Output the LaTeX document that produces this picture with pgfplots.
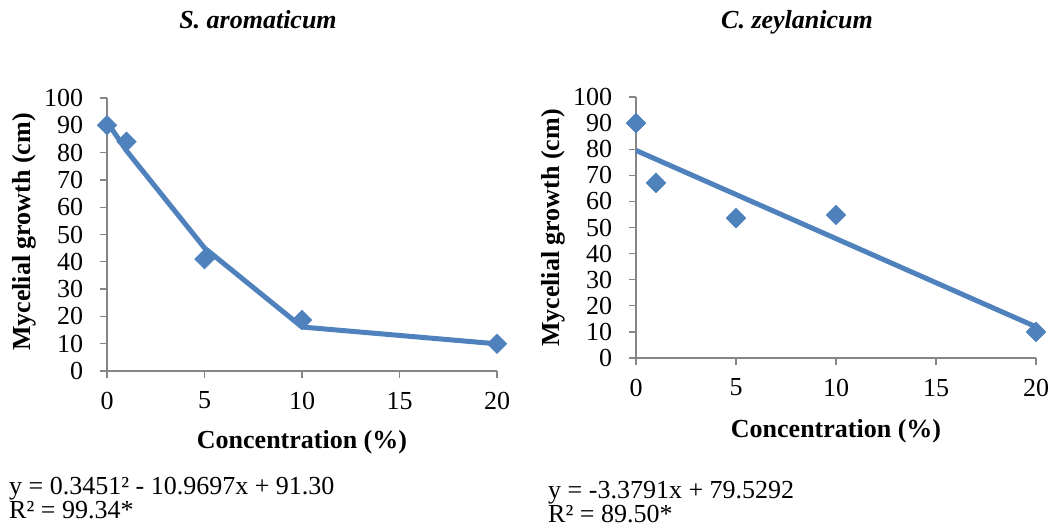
\documentclass[border=0pt]{standalone}
\usepackage{fontspec}
\setmainfont{Liberation Serif}
\usepackage{pgfplots}
\pgfplotsset{compat=1.18}
\definecolor{exblue}{HTML}{4F81BD}
\definecolor{axgray}{HTML}{868686}
\pgfplotsset{
  myaxis/.style={
    scale only axis,
    axis x line*=bottom, axis y line*=left,
    xmin=0, xmax=20, ymin=0, ymax=100,
    xtick={0,5,10,15,20}, ytick={0,10,...,100},
    tick align=outside, major tick length=7bp,
    axis line style={axgray, line width=1.3bp},
    major tick style={axgray, line width=1.3bp},
    tick label style={font=\fontsize{26bp}{30bp}\selectfont, black},
    yticklabel style={xshift=-8bp},
    xticklabel style={yshift=-5bp},
    /pgf/number format/assume math mode=true,
    clip=false,
    title style={font=\fontsize{26bp}{30bp}\selectfont\bfseries\itshape, anchor=base, at={(axis description cs:0.5,1)}},
    xlabel style={font=\fontsize{26bp}{30bp}\selectfont\bfseries, anchor=base, at={(axis description cs:0.5,0)}},
    ylabel style={font=\fontsize{26bp}{30bp}\selectfont\bfseries, anchor=center},
  },
  obs/.style={only marks, mark=square*, mark size=7bp, mark options={rotate=45, fill=exblue, draw=exblue}},
  fit/.style={no marks, exblue, line width=5bp},
}
\begin{document}
\fontsize{26bp}{30bp}\selectfont
\begin{tikzpicture}
\path[use as bounding box] (0bp,0bp) rectangle (1053bp,-531bp);

\begin{axis}[myaxis,
  at={(107bp,-371bp)}, anchor=south west,
  width=390bp, height=273bp,
  title={S. aromaticum}, title style={yshift=64bp, xshift=-44bp},
  xlabel={Concentration (\%)}, xlabel style={yshift=-77bp},
  ylabel={Mycelial growth (cm)}, ylabel style={at={(axis description cs:-0.213,0.509)}},
]
\addplot[obs] coordinates {(0,90) (1,84) (5,41) (10,18.7) (20,10)};
\addplot[fit] coordinates {(0,91.30) (1,80.68) (5,45.08) (10,16.11) (20,9.95)};
\end{axis}

\begin{axis}[myaxis,
  at={(636bp,-358bp)}, anchor=south west,
  width=400bp, height=261bp,
  title={C. zeylanicum}, title style={yshift=63bp, xshift=-39bp},
  xlabel={Concentration (\%)}, xlabel style={yshift=-79bp},
  ylabel={Mycelial growth (cm)}, ylabel style={at={(axis description cs:-0.2075,0.498)}},
]
\addplot[obs] coordinates {(0,90) (1,67.1) (5,53.6) (10,54.8) (20,10)};
\addplot[fit] coordinates {(0,79.53) (20,11.95)};
\end{axis}

\node[anchor=base west, inner sep=0pt] at (9bp,-494bp) {y = 0.3451² - 10.9697x + 91.30};
\node[anchor=base west, inner sep=0pt] at (9bp,-518bp) {R² = 99.34*};
\node[anchor=base west, inner sep=0pt] at (548bp,-498bp) {y = -3.3791x + 79.5292};
\node[anchor=base west, inner sep=0pt] at (548bp,-522bp) {R² = 89.50*};
\end{tikzpicture}
\end{document}
